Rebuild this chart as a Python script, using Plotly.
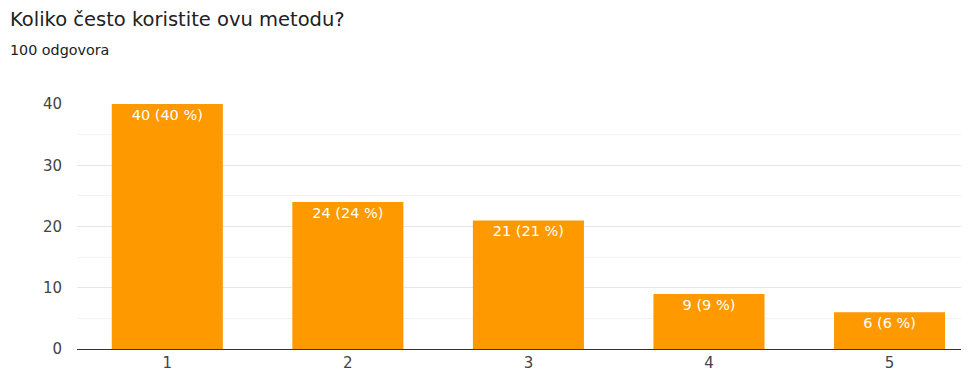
import plotly.graph_objects as go

# Survey answers
categories = ["1", "2", "3", "4", "5"]
counts = [40, 24, 21, 9, 6]
total = 100
labels = [f"{c} ({round(c * 100 / total)} %)" for c in counts]

BAR_COLOR = "#FF9900"
TEXT_COLOR = "#202124"
FONT = "DejaVu Sans, Arial, sans-serif"

fig = go.Figure(go.Bar(
    x=categories,
    y=counts,
    marker=dict(color=BAR_COLOR, line=dict(width=0)),
    text=labels,
    textposition="inside",
    insidetextanchor="end",
    textangle=0,
    textfont=dict(color="#FFFFFF", size=14.5, family=FONT),
    hoverinfo="skip",
))

# title + subtitle, placed relative to the plot area
fig.add_annotation(
    text="Koliko često koristite ovu metodu?",
    xref="paper", yref="paper", x=-0.077, y=1.345,
    xanchor="left", yanchor="middle", showarrow=False,
    font=dict(size=19.5, color=TEXT_COLOR, family=FONT),
)
fig.add_annotation(
    text="100 odgovora",
    xref="paper", yref="paper", x=-0.077, y=1.22,
    xanchor="left", yanchor="middle", showarrow=False,
    font=dict(size=14.3, color=TEXT_COLOR, family=FONT),
)

fig.update_layout(
    width=961,
    height=367,
    paper_bgcolor="#FFFFFF",
    plot_bgcolor="#FFFFFF",
    bargap=0.385,
    showlegend=False,
    margin=dict(l=69, r=0, t=96, b=26),
    font=dict(family=FONT, color="#444444"),
    xaxis=dict(
        type="category",
        range=[-0.5, 4.44],
        showgrid=False,
        showline=True,
        linecolor="#333333",
        linewidth=1,
        ticks="",
        tickfont=dict(size=15, color="#444444"),
        fixedrange=True,
    ),
    yaxis=dict(
        range=[0, 40],
        tickvals=[0, 10, 20, 30, 40],
        showgrid=True,
        gridcolor="#E6E6E6",
        gridwidth=1,
        zeroline=False,
        showline=False,
        ticks="",
        ticklabelstandoff=14,
        tickfont=dict(size=15, color="#444444"),
        minor=dict(dtick=5, tick0=0, showgrid=True, gridcolor="#F3F3F3", gridwidth=1),
        fixedrange=True,
    ),
)

fig.write_html("out.html", config={"displayModeBar": False})
